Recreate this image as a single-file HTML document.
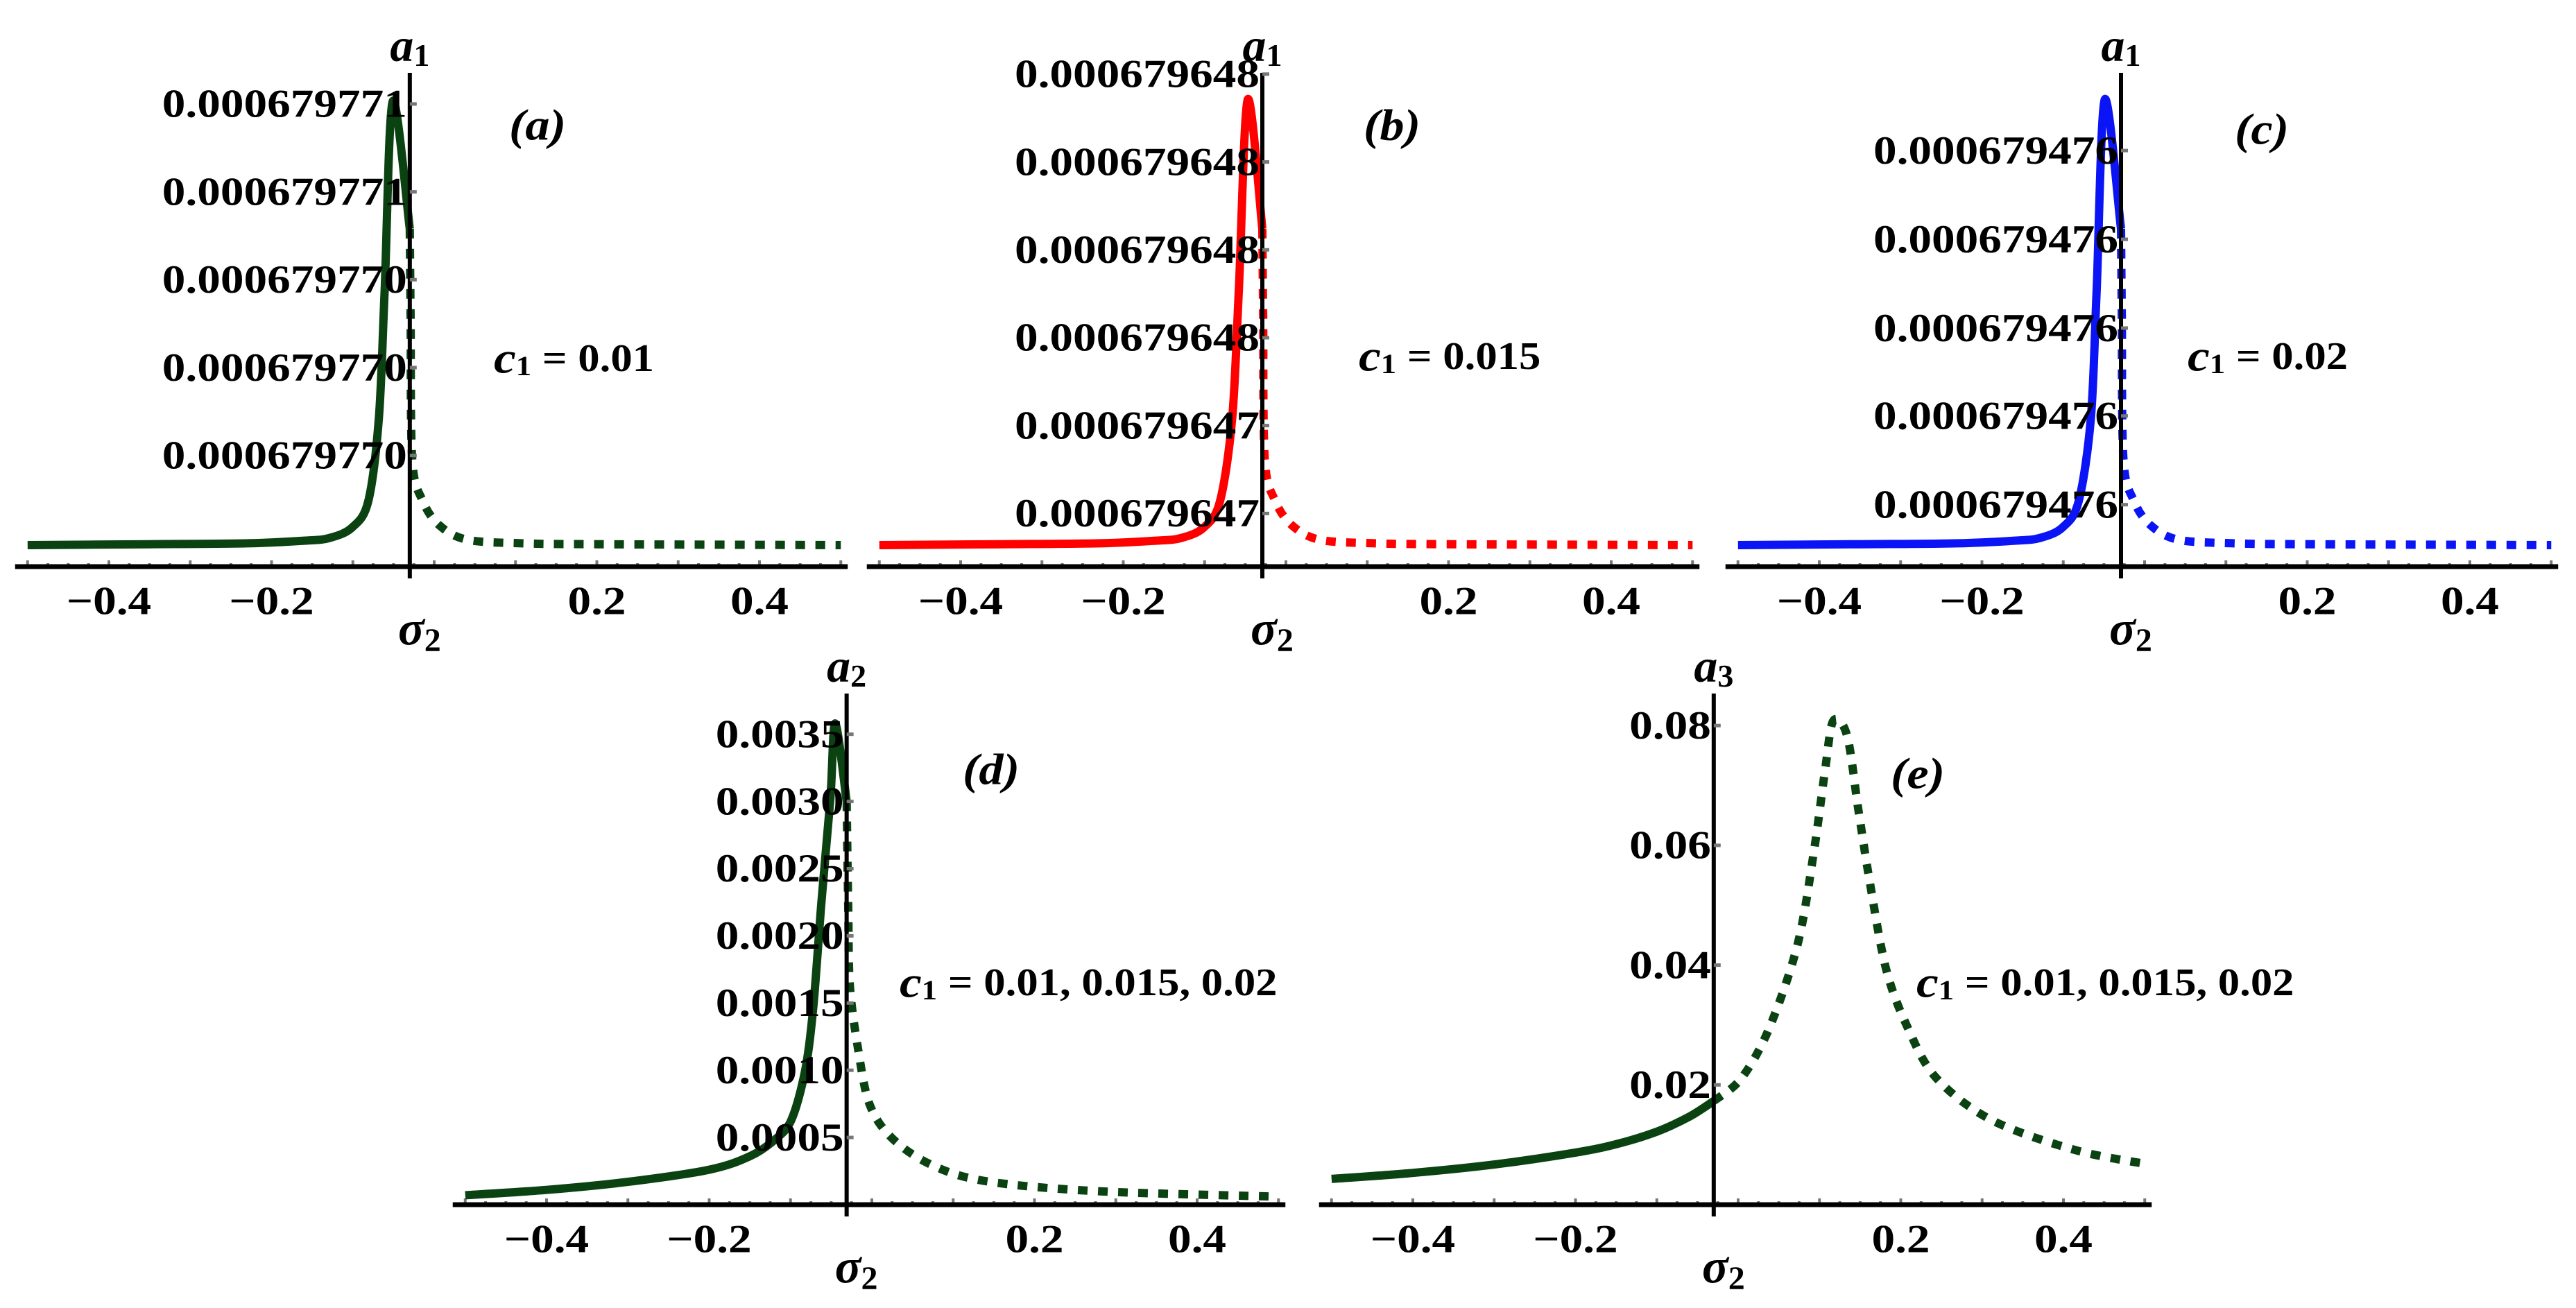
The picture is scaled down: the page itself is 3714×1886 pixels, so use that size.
<!DOCTYPE html>
<html><head><meta charset="utf-8">
<style>
html,body{margin:0;padding:0;background:#fff;}
svg{display:block;}
text{font-family:"Liberation Serif",serif;font-weight:bold;fill:#000;}
</style></head>
<body>
<svg id="fig" width="3714" height="1886" viewBox="0 0 3714 1886" xmlns="http://www.w3.org/2000/svg"></svg>
<script>
// ---------- data ----------
const xTickValues = [-0.4, -0.2, 0.2, 0.4];
const xTickLabels = ["\u22120.4", "\u22120.2", "0.2", "0.4"];

const aSolidX = [-0.5,-0.35,-0.23,-0.16,-0.129,-0.101,-0.081,-0.068,-0.061,-0.051,-0.03];
const aSolidY = [0,0.01,0.02,0.05,0.08,0.2,0.5,1.45,2.88,5.05,3.6];
const aDashX  = [-0.03,-0.029,-0.027,-0.014,0.007,0.041,0.108,0.2,0.5];
const aDashY  = [3.6,2.6,0.98,0.5,0.22,0.06,0.02,0.01,0];
const aTickVals = [1.02,2.02,3.02,4.02,5.02];
const aTickLabels = ["0.000679770","0.000679770","0.000679770","0.000679771","0.000679771"];

const bSolidX = [-0.5,-0.35,-0.23,-0.16,-0.129,-0.101,-0.081,-0.066,-0.058,-0.047,-0.029];
const bSolidY = [0,0.01,0.02,0.05,0.08,0.2,0.5,1.45,2.88,5.07,3.6];
const bDashX  = [-0.029,-0.028,-0.026,-0.013,0.008,0.042,0.109,0.2,0.5];
const bDashY  = [3.6,2.6,0.98,0.5,0.22,0.06,0.02,0.01,0];
const bTickVals = [0.36,1.36,2.36,3.36,4.36,5.36];
const bTickLabels = ["0.000679647","0.000679647","0.000679648","0.000679648","0.000679648","0.000679648"];

const cSolidX = [-0.5,-0.35,-0.23,-0.16,-0.129,-0.101,-0.081,-0.066,-0.059,-0.049,-0.029];
const cSolidY = [0,0.01,0.02,0.05,0.08,0.2,0.5,1.45,2.88,5.07,3.6];
const cDashX  = [-0.029,-0.028,-0.026,-0.013,0.008,0.042,0.109,0.2,0.5];
const cDashY  = [3.6,2.6,0.98,0.5,0.22,0.06,0.02,0.01,0];
const cTickVals = [0.46,1.47,2.47,3.48,4.49];
const cTickLabels = ["0.000679476","0.000679476","0.000679476","0.000679476","0.000679476"];

const dSolidX = [-0.5,-0.4,-0.3,-0.2,-0.15,-0.12,-0.099,-0.082,-0.072,-0.062,-0.051,-0.045,-0.031];
const dSolidY = [0.00007,0.00011,0.00017,0.00026,0.00036,0.00048,0.00063,0.001,0.00147,0.00225,0.00302,0.00358,0.003];
const dDashX  = [-0.031,-0.029,-0.027,-0.017,-0.003,0.024,0.072,0.14,0.278,0.497];
const dDashY  = [0.003,0.0022,0.00163,0.00116,0.00075,0.0005,0.0003,0.000175,0.0001,0.00006];
const dTickVals = [0.0005,0.001,0.0015,0.002,0.0025,0.003,0.0035];
const dTickLabels = ["0.0005","0.0010","0.0015","0.0020","0.0025","0.0030","0.0035"];

const eSolidX = [-0.5,-0.4,-0.3,-0.2,-0.15,-0.1,-0.06,-0.03];
const eSolidY = [0.0043,0.0053,0.0067,0.0087,0.0101,0.0122,0.0147,0.0173];
const eDashX  = [-0.03,0.004,0.038,0.073,0.093,0.107,0.117,0.134,0.148,0.162,0.182,0.209,0.244,0.312,0.415,0.505];
const eDashY  = [0.0173,0.0211,0.0294,0.0434,0.0588,0.0727,0.0808,0.0783,0.0658,0.0538,0.0393,0.0294,0.0211,0.0141,0.0091,0.0067];
const eTickVals = [0.02,0.04,0.06,0.08];
const eTickLabels = ["0.02","0.04","0.06","0.08"];

// ---------- drawing ----------
const NS = "http://www.w3.org/2000/svg";
const svg = document.getElementById("fig");
const GREEN = "#0b4212";
const SX = 1.18;

function mk(tag, attrs, parent){
  const el = document.createElementNS(NS, tag);
  for (const k in attrs) el.setAttribute(k, attrs[k]);
  (parent || svg).appendChild(el);
  return el;
}
function label(parent, x, y, str, size, anchor){
  const t = mk("text", {transform:`translate(${x},${y}) scale(${SX},1)`, "font-size":size, "text-anchor":anchor, "dominant-baseline":"central"}, parent);
  t.textContent = str;
  return t;
}
function smoothPath(pts){
  let d = `M${pts[0][0].toFixed(1)},${pts[0][1].toFixed(1)}`;
  for (let i=0;i<pts.length-1;i++){
    const p0 = pts[Math.max(0,i-1)], p1 = pts[i], p2 = pts[i+1], p3 = pts[Math.min(pts.length-1,i+2)];
    const t = 0.16;
    const c1x = p1[0]+(p2[0]-p0[0])*t, c1y = p1[1]+(p2[1]-p0[1])*t;
    const c2x = p2[0]-(p3[0]-p1[0])*t, c2y = p2[1]-(p3[1]-p1[1])*t;
    d += ` C${c1x.toFixed(1)},${c1y.toFixed(1)} ${c2x.toFixed(1)},${c2y.toFixed(1)} ${p2[0].toFixed(1)},${p2[1].toFixed(1)}`;
  }
  return d;
}

function panel(cfg){
  const g = mk("g", {});
  
  
  const off = cfg.offset || 0;
  const xs = v => cfg.zeroX + v*1172.5;
  const ys = v => cfg.baseY - (v+off)*cfg.vScale;
  const axX = xs(cfg.axisAt);
  for (let k=-20;k<=20;k++){
    const xv = k*0.025, px = xs(xv);
    const big = (k%4===0);
    const tk = mk("line", {x1:px, x2:px, y1:cfg.baseY, y2:cfg.baseY-(big?9:5), stroke:"#777", "stroke-width":4}, g);
    
    
  }
  const solid = mk("path", {d:smoothPath(cfg.solidX.map((x,i)=>[xs(x),ys(cfg.solidY[i])])), fill:"none", stroke:cfg.color, "stroke-width":12, "stroke-linejoin":"round"}, g);
  
  
  const dash = mk("path", {d:smoothPath(cfg.dashX.map((x,i)=>[xs(x),ys(cfg.dashY[i])])), fill:"none", stroke:cfg.color, "stroke-width":12, "stroke-dasharray":"14 15"}, g);
  
  
  const xa = mk("line", {x1:xs(-0.5)-18, x2:xs(0.5)+10, y1:cfg.baseY, y2:cfg.baseY, stroke:"#000", "stroke-width":7}, g);
  
  
  const ya = mk("line", {x1:axX, x2:axX, y1:cfg.topY, y2:cfg.baseY+17, stroke:"#000", "stroke-width":6}, g);
  
  
  xTickValues.forEach((v,i)=>{
    const t = label(g, xs(v), cfg.baseY+50, xTickLabels[i], 57, "middle");
    
    
  });
  cfg.tickVals.forEach((v,i)=>{
    const py = ys(v);
    const tk = mk("line", {x1:axX, x2:axX+10, y1:py, y2:py, stroke:"#777", "stroke-width":5}, g);
    
    
    const t = label(g, axX-4, py, cfg.tickLabels[i], 57, "end");
    
    
  });
  const yt = mk("text", {x:axX, y:cfg.topY-40, "font-size":68, "font-style":"italic", "text-anchor":"middle", "dominant-baseline":"central"}, g);
  
  
  yt.innerHTML = `${cfg.yName}<tspan font-size="46" font-style="normal" dy="14">${cfg.ySub}</tspan>`;
  const xt = mk("text", {x:axX+14, y:cfg.baseY+90, "font-size":70, "font-style":"italic", "text-anchor":"middle", "dominant-baseline":"central"}, g);
  
  
  xt.innerHTML = `\u03C3<tspan font-size="48" font-style="normal" dy="16">2</tspan>`;
  const pl = mk("text", {transform:`translate(${cfg.letterX},${cfg.letterY}) scale(1.1,1)`, "font-size":64, "font-style":"italic", "text-anchor":"middle", "dominant-baseline":"central"}, g);
  
  
  pl.textContent = `(${cfg.id})`;
  const pa = mk("text", {transform:`translate(${cfg.annX},${cfg.annY}) scale(1.12,1)`, "font-size":56, "dominant-baseline":"central"}, g);
  
  
  pa.innerHTML = `<tspan font-style="italic" font-size="64">c</tspan><tspan font-size="40" dy="12">1</tspan><tspan dy="-12"> = ${cfg.ann}</tspan>`;
}

panel({id:"a", zeroX:626, baseY:817, vScale:126.7, offset:0.245, axisAt:-0.03, topY:105, color:GREEN,
  solidX:aSolidX, solidY:aSolidY, dashX:aDashX, dashY:aDashY,
  tickVals:aTickVals, tickLabels:aTickLabels, yName:"a", ySub:"1",
  letterX:775, letterY:180, annX:712, annY:516, ann:"0.01"});
panel({id:"b", zeroX:1854, baseY:817, vScale:126.7, offset:0.245, axisAt:-0.029, topY:105, color:"#ff0000",
  solidX:bSolidX, solidY:bSolidY, dashX:bDashX, dashY:bDashY,
  tickVals:bTickVals, tickLabels:bTickLabels, yName:"a", ySub:"1",
  letterX:2007, letterY:180, annX:1959, annY:513, ann:"0.015"});
panel({id:"c", zeroX:3092, baseY:817, vScale:126.7, offset:0.245, axisAt:-0.029, topY:105, color:"#0a14f5",
  solidX:cSolidX, solidY:cSolidY, dashX:cDashX, dashY:cDashY,
  tickVals:cTickVals, tickLabels:cTickLabels, yName:"a", ySub:"1",
  letterX:3261, letterY:186, annX:3154, annY:513, ann:"0.02"});
panel({id:"d", zeroX:1257, baseY:1737, vScale:193800, axisAt:-0.031, topY:1000, color:GREEN,
  solidX:dSolidX, solidY:dSolidY, dashX:dDashX, dashY:dDashY,
  tickVals:dTickVals, tickLabels:dTickLabels, yName:"a", ySub:"2",
  letterX:1429, letterY:1109, annX:1297, annY:1416, ann:"0.01, 0.015, 0.02"});
panel({id:"e", zeroX:2506, baseY:1737, vScale:8635, axisAt:-0.03, topY:1000, color:GREEN,
  solidX:eSolidX, solidY:eSolidY, dashX:eDashX, dashY:eDashY,
  tickVals:eTickVals, tickLabels:eTickLabels, yName:"a", ySub:"3",
  letterX:2765, letterY:1115, annX:2763, annY:1416, ann:"0.01, 0.015, 0.02"});
</script>
</body></html>
